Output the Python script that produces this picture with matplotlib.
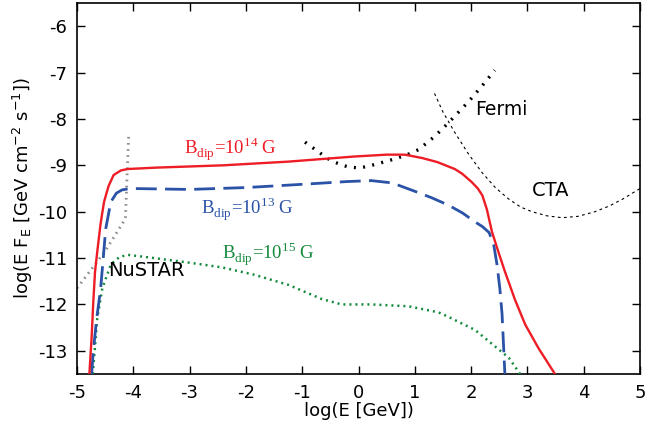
import matplotlib
matplotlib.use("Agg")
import matplotlib.pyplot as plt

plt.rcParams["axes.unicode_minus"] = False
plt.rcParams["mathtext.fontset"] = "custom"
plt.rcParams["mathtext.rm"] = "Liberation Serif"

# B_dip = 1e14 G (red, solid)
red_x = [-4.78, -4.74, -4.71, -4.68, -4.64, -4.58, -4.52, -4.44, -4.35, -4.22, -4.10, -3.6,
         -2.4, -1.24, -0.07, 0.5, 0.82, 1.12, 1.4, 1.71, 1.84, 2.01, 2.12, 2.2, 2.28, 2.37, 2.48,
         2.6, 2.78, 2.96, 3.2, 3.49]
red_y = [-13.5, -12.7, -11.93, -11.3, -10.86, -10.25, -9.79, -9.45, -9.21, -9.11, -9.08, -9.05,
         -9.0, -8.92, -8.81, -8.77, -8.77, -8.84, -8.93, -9.08, -9.18, -9.36, -9.5, -9.65, -9.95,
         -10.43, -10.85, -11.29, -11.9, -12.43, -12.95, -13.5]

# B_dip = 1e13 G (blue, dashed)
blue_x = [-4.74, -4.71, -4.65, -4.58, -4.49, -4.40, -4.30, -4.20, -4.05, -3.0, -2.0, -1.0,
          -0.2, 0.23, 0.6, 1.0, 1.3, 1.6, 1.85, 2.07, 2.2, 2.32, 2.4, 2.46, 2.51, 2.55, 2.6]
blue_y = [-13.5, -13.0, -12.3, -11.66, -10.37, -9.79, -9.60, -9.53, -9.50, -9.52, -9.48, -9.41,
          -9.35, -9.33, -9.38, -9.56, -9.7, -9.86, -10.03, -10.22, -10.32, -10.45, -10.7, -11.14,
          -11.65, -12.21, -13.5]

# B_dip = 1e15 G (green, dotted)
green_x = [-4.72, -4.68, -4.64, -4.55, -4.40, -4.25, -4.10, -3.63, -3.0, -2.43, -1.85, -1.24,
           -0.66, -0.3, 0.23, 0.89, 1.42, 1.6, 2.07, 2.42, 2.67, 2.87]
green_y = [-13.5, -12.9, -12.3, -11.65, -11.14, -10.98, -10.93, -11.0, -11.1, -11.2, -11.36,
           -11.58, -11.88, -12.0, -12.0, -12.04, -12.17, -12.27, -12.55, -12.9, -13.15, -13.5]

# NuSTAR sensitivity (grey dotted)
nustar_x = [-5.0, -4.5, -4.14, -4.11, -4.08]
nustar_y = [-11.65, -10.85, -10.15, -9.2, -8.3]

# Fermi sensitivity (black dotted)
fermi_x = [-0.95, -0.7, -0.48, -0.2, 0.02, 0.3, 0.59, 0.85, 1.07, 1.35, 1.6, 1.96, 2.2, 2.42]
fermi_y = [-8.5, -8.72, -8.91, -9.03, -9.06, -8.98, -8.88, -8.78, -8.66, -8.38, -8.08, -7.62,
           -7.28, -6.95]

# CTA sensitivity (thin black dashes)
cta_x = [1.35, 1.5, 1.71, 1.95, 2.19, 2.43, 2.67, 2.88, 3.08, 3.35, 3.62, 3.9, 4.2, 4.45, 4.69, 5.0]
cta_y = [-7.45, -7.85, -8.29, -8.75, -9.15, -9.48, -9.73, -9.9, -10.0, -10.09, -10.13, -10.1,
         -10.0, -9.88, -9.73, -9.5]

red = "#ee1c25"
blue = "#2a52a6"
green = "#148a3c"

fig = plt.figure(figsize=(6.49, 4.32), dpi=100)
ax = fig.add_axes([77 / 649, 1 - 374 / 432, (640 - 77) / 649, (374 - 3) / 432])

ax.plot(nustar_x, nustar_y, color="#8c8c8c", lw=2.0, ls=(0, (0.6, 1.6)), zorder=2)
ax.plot(fermi_x, fermi_y, color="black", lw=2.4, ls=(0, (0.6, 2.2)), zorder=2)
ax.plot(cta_x, cta_y, color="black", lw=0.8, ls=(0, (2.5, 3)), zorder=2)
ax.plot(green_x, green_y, color=green, lw=1.8, ls=(0, (0.8, 1.6)), zorder=3)
ax.plot(blue_x, blue_y, color=blue, lw=2.0, ls=(0, (7.5, 3)), zorder=3)
ax.plot(red_x, red_y, color=red, lw=1.7, zorder=4)

serif = ["Liberation Serif", "DejaVu Serif"]
ax.text(-2.28, -8.65, r"B$_{\mathregular{dip}}$=10$^{\mathregular{14}}$ G", color=red,
        family=serif, fontsize=13.5, ha="center", va="center")
ax.text(-1.98, -9.96, r"B$_{\mathregular{dip}}$=10$^{\mathregular{13}}$ G", color=blue,
        family=serif, fontsize=13.5, ha="center", va="center")
ax.text(-1.6, -10.93, r"B$_{\mathregular{dip}}$=10$^{\mathregular{15}}$ G", color=green,
        family=serif, fontsize=13.5, ha="center", va="center")

ax.text(-3.76, -11.27, "NuSTAR", fontsize=14, ha="center", va="center")
ax.text(2.53, -7.8, "Fermi", fontsize=13.5, ha="center", va="center")
ax.text(3.42, -9.55, "CTA", fontsize=14, ha="center", va="center")

ax.set_xlim(-5, 5)
ax.set_ylim(-13.5, -5.5)
ax.set_xticks(range(-5, 6))
ax.set_yticks(range(-13, -5))
ax.tick_params(direction="in", top=True, right=True, length=6, width=1, labelsize=13, pad=7)
for s in ax.spines.values():
    s.set_linewidth(1.2)

ax.set_xlabel("log(E [GeV])", fontsize=13, labelpad=0)
ax.set_ylabel(r"log(E F$_\mathregular{E}$ [GeV cm$^\mathregular{-2}$ s$^\mathregular{-1}$])",
              fontsize=13, labelpad=2)

fig.savefig("out.png", dpi=100)
